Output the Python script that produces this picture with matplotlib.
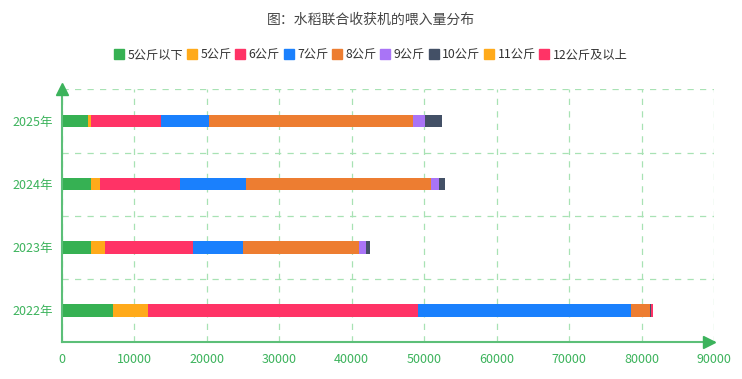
import matplotlib
matplotlib.use('Agg')
import matplotlib.pyplot as plt
from matplotlib.lines import Line2D
import numpy as np

plt.rcParams['font.family'] = ['Noto Sans CJK SC', 'DejaVu Sans']

# data
years = ['2022年', '2023年', '2024年', '2025年']
series = ['5公斤以下', '5公斤', '6公斤', '7公斤', '8公斤', '9公斤', '10公斤', '11公斤', '12公斤及以上']
values = {
    '5公斤以下':   [7070, 4040, 4040, 3630],
    '5公斤':       [4830, 1930, 1240, 400],
    '6公斤':       [37290, 12150, 11000, 9700],
    '7公斤':       [29370, 6900, 9150, 6600],
    '8公斤':       [2600, 16000, 25600, 28200],
    '9公斤':       [0, 970, 1000, 1650],
    '10公斤':      [190, 550, 850, 2350],
    '11公斤':      [0, 0, 0, 0],
    '12公斤及以上': [170, 0, 0, 0],
}
colors = ['#36b153', '#ffaa1a', '#ff3366', '#1a80fd', '#ed7d31',
          '#a974f6', '#435066', '#ffaa1a', '#ff3366']
x_ticks = [0, 10000, 20000, 30000, 40000, 50000, 60000, 70000, 80000, 90000]

green = '#3cb35c'
axis_green = '#5cbf78'
grid_green = '#a8e2b4'

fig = plt.figure(figsize=(7.42, 3.79), dpi=100)
ax = fig.add_axes([0.0829, 0.0976, 0.8794, 0.6663])

y = np.arange(len(years))
left = np.zeros(len(years))
for name, col in zip(series, colors):
    vals = np.array(values[name], dtype=float)
    ax.barh(y, vals, left=left, height=0.2, color=col, zorder=3)
    left += vals

ax.set_xlim(0, 90000)
ax.set_ylim(-0.5, len(years) - 0.5)
ax.set_xticks(x_ticks)
ax.set_xticklabels([str(t) for t in x_ticks])
ax.set_yticks(y)
ax.set_yticklabels(years)
ax.set_yticks(np.arange(-0.5, len(years), 1.0), minor=True)
ax.tick_params(axis='both', which='both', length=0, colors=green, labelsize=9)
ax.tick_params(axis='x', pad=8)
ax.tick_params(axis='y', pad=6)

ax.grid(True, which='major', axis='x', linestyle=(0, (5, 5)), color=grid_green, linewidth=0.9, zorder=0)
ax.grid(True, which='minor', axis='y', linestyle=(0, (5, 5)), color=grid_green, linewidth=0.9, zorder=0)

for s in ['top', 'right']:
    ax.spines[s].set_visible(False)
for s in ['left', 'bottom']:
    ax.spines[s].set_color(axis_green)
    ax.spines[s].set_linewidth(1.5)
    ax.spines[s].set_zorder(4)

# arrows at axis ends
ax.plot(0, 1.0, marker='^', markersize=8, color=green, transform=ax.transAxes, clip_on=False, zorder=5)
ax.plot(0.993, 0, marker='>', markersize=8, color=green, transform=ax.transAxes, clip_on=False, zorder=5)

fig.text(0.5, 0.947, '图：水稻联合收获机的喂入量分布', ha='center', va='center', fontsize=10, color='#464646')

handles = [Line2D([0], [0], marker='s', linestyle='', markersize=6.5, color=c) for c in colors]
fig.legend(handles, series, loc='center', bbox_to_anchor=(0.5, 0.855), ncol=len(series),
           frameon=False, fontsize=8.8, handletextpad=0.3, columnspacing=0.3, handlelength=0.8,
           labelcolor='#333333')

fig.savefig('out.png', dpi=100)
